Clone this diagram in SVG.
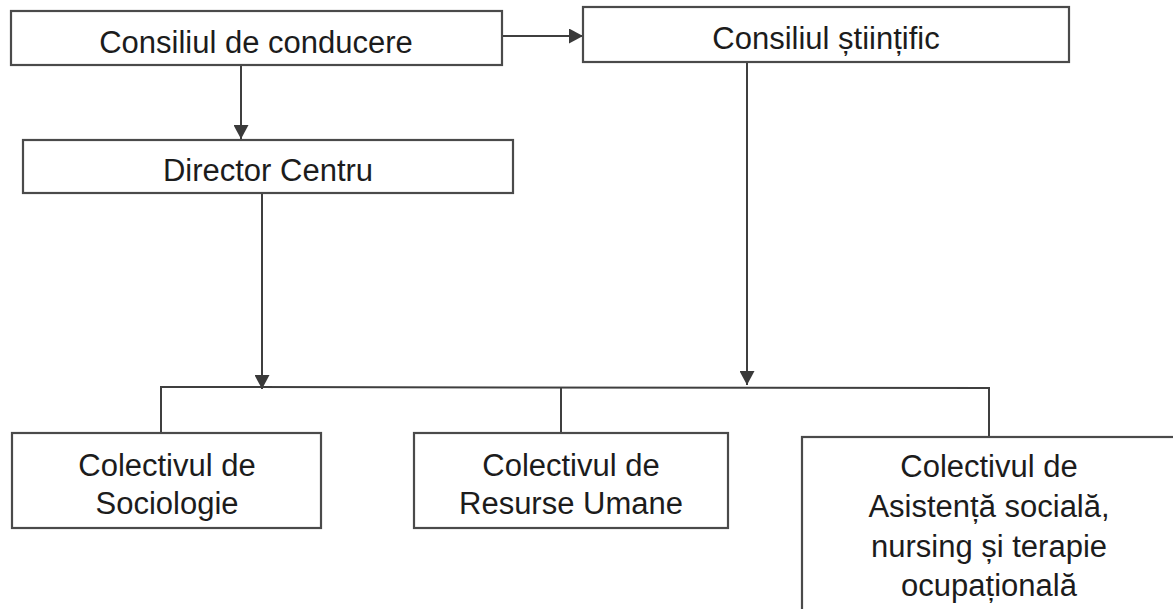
<svg xmlns="http://www.w3.org/2000/svg" width="1173" height="609" viewBox="0 0 1173 609">
<defs>
<marker id="ah" markerUnits="userSpaceOnUse" markerWidth="15" markerHeight="15" refX="14" refY="7.5" orient="auto">
<path d="M0,0 L14,7.5 L0,15 z" fill="#3a3a3a"/>
</marker>
<style>
.box{fill:#fff;stroke:#4a4a4a;stroke-width:2.2}
.lbl{font-family:"Liberation Sans",Arial,sans-serif;font-size:31px;fill:#1c1c1c;text-anchor:middle}
.con{fill:none;stroke:#3f3f3f;stroke-width:2}
</style>
</defs>
<rect width="1173" height="609" fill="#fff"/>
<g id="connectors">
<line class="con" x1="502" y1="36" x2="583" y2="36" marker-end="url(#ah)"/>
<line class="con" x1="241" y1="65" x2="241" y2="139" marker-end="url(#ah)"/>
<line class="con" x1="262" y1="193" x2="262" y2="389" marker-end="url(#ah)"/>
<line class="con" x1="747" y1="62" x2="747" y2="385" marker-end="url(#ah)"/>
<polyline class="con" points="161,433 161,387 989,388 989,437"/>
<line class="con" x1="561" y1="387" x2="561" y2="433"/>
</g>
<g id="consiliul-conducere">
<rect class="box" x="11" y="11" width="491" height="54"/>
<text class="lbl" x="256" y="53">Consiliul de conducere</text>
</g>
<g id="consiliul-stiintific">
<rect class="box" x="583" y="7" width="486" height="55"/>
<text class="lbl" x="826" y="49">Consiliul științific</text>
</g>
<g id="director-centru">
<rect class="box" x="23" y="140" width="490" height="53"/>
<text class="lbl" x="268" y="181">Director Centru</text>
</g>
<g id="colectiv-sociologie">
<rect class="box" x="12" y="433" width="309" height="95"/>
<text class="lbl" x="167" y="476">Colectivul de</text>
<text class="lbl" x="167" y="514">Sociologie</text>
</g>
<g id="colectiv-resurse">
<rect class="box" x="414" y="433" width="314" height="95"/>
<text class="lbl" x="571" y="476">Colectivul de</text>
<text class="lbl" x="571" y="514">Resurse Umane</text>
</g>
<g id="colectiv-asistenta">
<rect class="box" x="802" y="437" width="374" height="190"/>
<text class="lbl" x="989" y="477">Colectivul de</text>
<text class="lbl" x="989" y="517">Asistență socială,</text>
<text class="lbl" x="989" y="557">nursing și terapie</text>
<text class="lbl" x="989" y="596">ocupațională</text>
</g>
</svg>
